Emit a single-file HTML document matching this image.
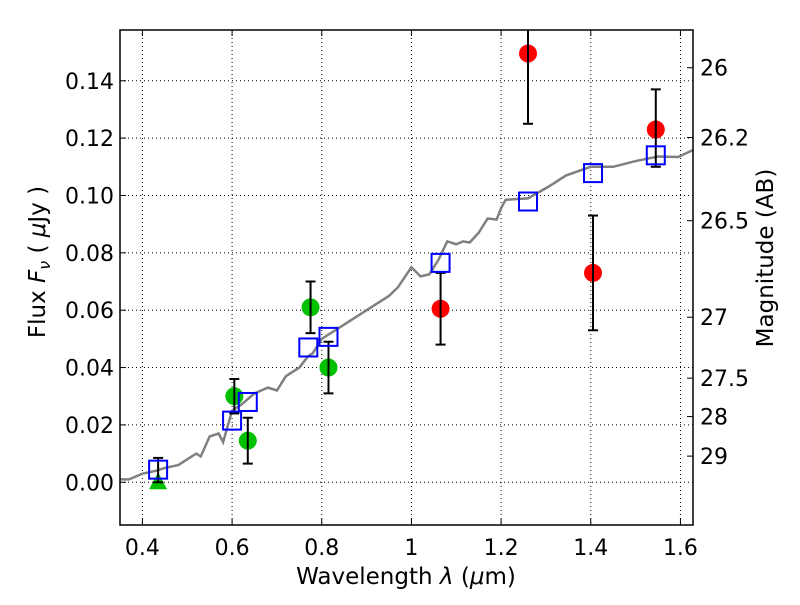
<!DOCTYPE html>
<html><head><meta charset="utf-8"><style>
body{margin:0;background:#fff;}
svg text{font-family:"DejaVu Sans","Liberation Sans",sans-serif;}
</style></head><body>
<svg id="chart" width="800" height="600" xmlns="http://www.w3.org/2000/svg">
<defs><clipPath id="plotclip"><rect x="120" y="30" width="573" height="495"/></clipPath></defs>
</svg>
<script>
const xTicks=[0.4,0.6,0.8,1.0,1.2,1.4,1.6];
const xTickLabels=["0.4","0.6","0.8","1","1.2","1.4","1.6"];
const yTicks=[0,0.02,0.04,0.06,0.08,0.10,0.12,0.14];
const yTickLabels=["0.00","0.02","0.04","0.06","0.08","0.10","0.12","0.14"];
const magTicks=[26,26.2,26.5,27,27.5,28,29];
const magTickLabels=["26","26.2","26.5","27","27.5","28","29"];
const specX=[0.35,0.37,0.40,0.43,0.45,0.48,0.50,0.52,0.53,0.55,0.57,0.58,0.60,0.62,0.65,0.68,0.70,0.72,0.75,0.77,0.78,0.80,0.83,0.86,0.90,0.95,0.97,1.00,1.02,1.04,1.06,1.08,1.10,1.115,1.13,1.15,1.17,1.19,1.20,1.21,1.26,1.305,1.345,1.40,1.45,1.50,1.55,1.595,1.63];
const specY=[0.001,0.001,0.003,0.004,0.005,0.006,0.008,0.010,0.009,0.016,0.017,0.014,0.025,0.027,0.031,0.033,0.032,0.037,0.040,0.044,0.045,0.050,0.053,0.056,0.060,0.065,0.068,0.075,0.0718,0.0725,0.0775,0.084,0.083,0.084,0.0836,0.087,0.092,0.0916,0.0956,0.0985,0.099,0.103,0.107,0.110,0.110,0.112,0.1136,0.1134,0.116];
const modelX=[0.435,0.60,0.635,0.77,0.815,1.065,1.26,1.405,1.545];
const modelY=[0.0044,0.0215,0.028,0.047,0.0507,0.0765,0.0979,0.1078,0.114];
const greenX=[0.605,0.635,0.775,0.815];
const greenY=[0.030,0.0145,0.061,0.040];
const greenLo=[0.024,0.0065,0.052,0.031];
const greenHi=[0.036,0.0225,0.070,0.049];
const triX=[0.435];
const triY=[0.0];
const triHi=[0.0085];
const redX=[1.065,1.26,1.405,1.545];
const redY=[0.0605,0.1495,0.073,0.123];
const redLo=[0.048,0.125,0.053,0.110];
const redHi=[0.073,0.175,0.093,0.137];

const L=120,R=693,T=30,B=525,xmin=0.35,xmax=1.628,ymin=-0.0149,ymax=0.1577;
const sx=v=>L+(v-xmin)/(xmax-xmin)*(R-L);
const sy=v=>B-(v-ymin)/(ymax-ymin)*(B-T);
const svg=document.getElementById('chart');
const NS='http://www.w3.org/2000/svg';
function mk(tag,attrs,parent){const e=document.createElementNS(NS,tag);for(const k in attrs)e.setAttribute(k,attrs[k]);(parent||svg).appendChild(e);return e;}

xTicks.forEach((v,i)=>{
 const g=mk('line',{x1:sx(v),x2:sx(v),y1:T,y2:B,stroke:'#000','stroke-width':1,'stroke-dasharray':'1,3'});
 
 
 mk('line',{x1:sx(v),x2:sx(v),y1:B,y2:B-6,stroke:'#000'});
 mk('line',{x1:sx(v),x2:sx(v),y1:T,y2:T+6,stroke:'#000'});
 const t=mk('text',{x:sx(v),y:B+30,'font-size':22,'text-anchor':'middle'});t.textContent=xTickLabels[i];
 
 
});
yTicks.forEach((v,i)=>{
 const g=mk('line',{x1:L,x2:R,y1:sy(v),y2:sy(v),stroke:'#000','stroke-width':1,'stroke-dasharray':'1,3'});
 
 
 mk('line',{x1:L,x2:L+6,y1:sy(v),y2:sy(v),stroke:'#000'});
 const t=mk('text',{x:L-6,y:sy(v)+8,'font-size':22,'text-anchor':'end'});t.textContent=yTickLabels[i];
 
 
});
magTicks.forEach((m,i)=>{
 const f=Math.pow(10,(23.9-m)/2.5);
 mk('line',{x1:R,x2:R-6,y1:sy(f),y2:sy(f),stroke:'#000'});
 const t=mk('text',{x:R+7,y:sy(f)+8,'font-size':22});t.textContent=magTickLabels[i];
 
 
});
const plot=mk('g',{'clip-path':'url(#plotclip)'});


const sp=mk('polyline',{points:specX.map((x,i)=>sx(x)+','+sy(specY[i])).join(' '),fill:'none',stroke:'#808080','stroke-width':2.5},plot);


function ebar(x,lo,hi){const g=mk('g',{stroke:'#000','stroke-width':2},plot);
 mk('line',{x1:sx(x),x2:sx(x),y1:sy(lo),y2:sy(hi)},g);
 mk('line',{x1:sx(x)-5,x2:sx(x)+5,y1:sy(lo),y2:sy(lo)},g);
 mk('line',{x1:sx(x)-5,x2:sx(x)+5,y1:sy(hi),y2:sy(hi)},g);
 
 }
greenX.forEach((x,i)=>{const c=mk('circle',{cx:sx(x),cy:sy(greenY[i]),r:9,fill:'#00c000'},plot);
 
 });
triX.forEach((x,i)=>{const px=sx(x),py=sy(triY[i]);const p=mk('polygon',{points:`${px},${py-10} ${px-9},${py+7} ${px+9},${py+7}`,fill:'#00c000'},plot);
 
 });
redX.forEach((x,i)=>{const c=mk('circle',{cx:sx(x),cy:sy(redY[i]),r:9,fill:'#ff0000'},plot);
 
 });
greenX.forEach((x,i)=>ebar(x,greenLo[i],greenHi[i]));
triX.forEach((x,i)=>ebar(x,triY[i],triHi[i]));
redX.forEach((x,i)=>ebar(x,redLo[i],redHi[i]));
modelX.forEach((x,i)=>{const r=mk('rect',{x:sx(x)-9,y:sy(modelY[i])-9,width:18,height:18,fill:'none',stroke:'#0000ff','stroke-width':2},plot);
 
 });
const fr=mk('rect',{x:L,y:T,width:R-L,height:B-T,fill:'none',stroke:'#000','stroke-width':1.5});


const xl=mk('text',{x:406,y:584,'font-size':23,'text-anchor':'middle'});
xl.innerHTML='Wavelength  <tspan font-style="italic">λ</tspan> (<tspan font-style="italic">μ</tspan>m)';


const yl=mk('text',{x:0,y:0,'font-size':23,'text-anchor':'middle',transform:'translate(45,262) rotate(-90)'});
yl.innerHTML='Flux  <tspan font-style="italic">F</tspan><tspan font-style="italic" font-size="16" dy="5">ν</tspan><tspan dy="-5">  (  </tspan><tspan font-style="italic">μ</tspan>Jy )';


const rl=mk('text',{x:0,y:0,'font-size':23,'text-anchor':'middle',transform:'translate(773,258) rotate(-90)'});
rl.textContent='Magnitude (AB)';


</script>
</body></html>
